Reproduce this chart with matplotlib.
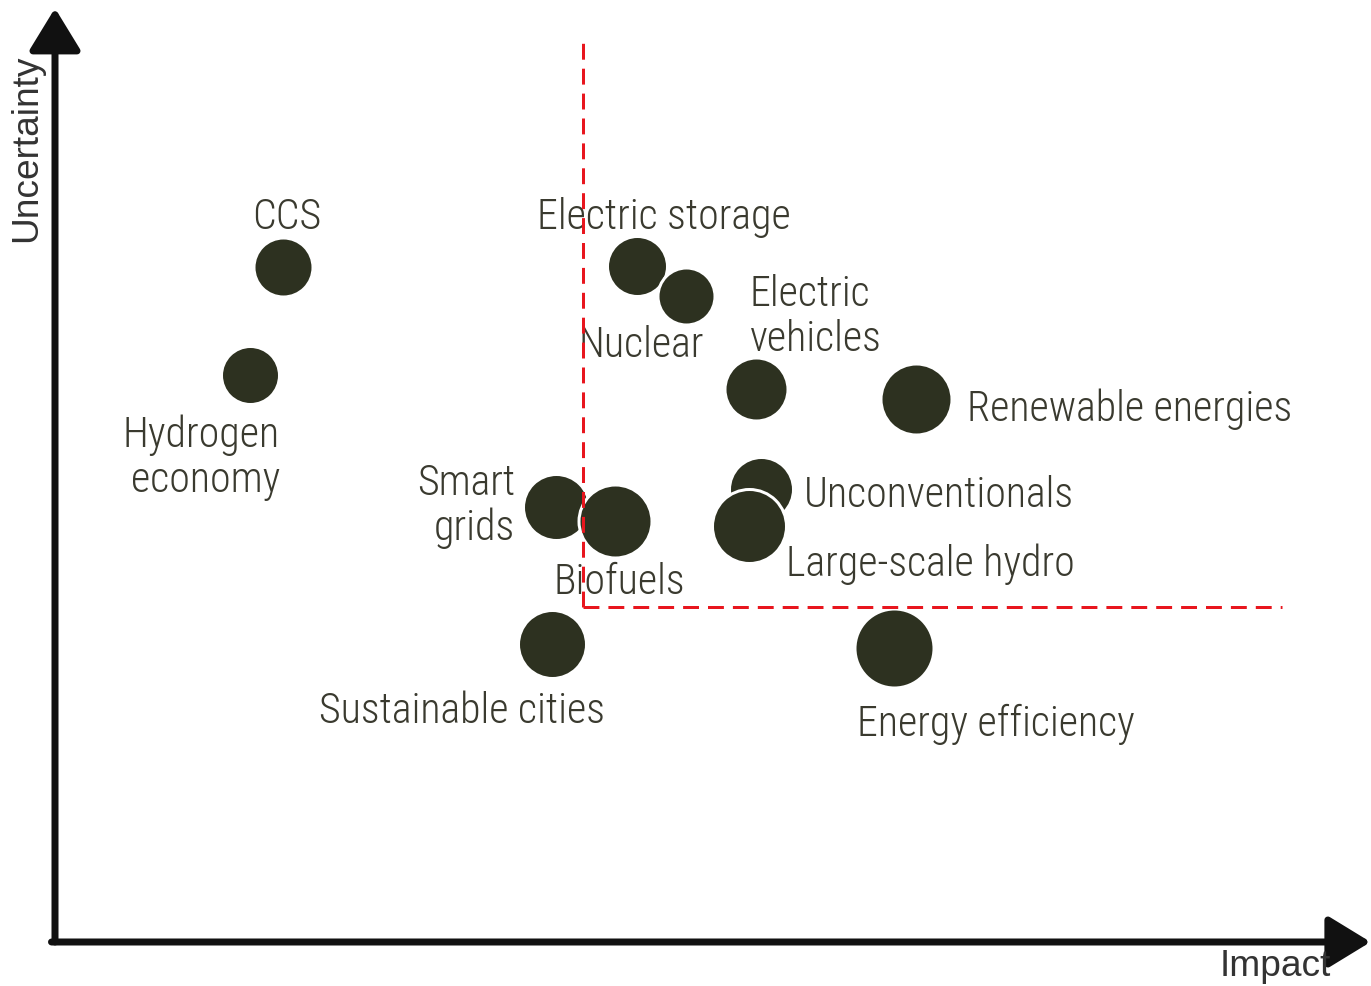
import matplotlib
matplotlib.use("Agg")
import matplotlib.pyplot as plt
from matplotlib.patches import ArrowStyle

# technologies on the impact / uncertainty map (0-10 scale)
names = ["CCS", "Hydrogen\neconomy", "Electric storage", "Nuclear",
         "Electric\nvehicles", "Renewable energies", "Smart\ngrids", "Biofuels",
         "Unconventionals", "Large-scale hydro", "Sustainable cities",
         "Energy efficiency"]
impact = [1.75, 1.50, 4.48, 4.85, 5.39, 6.62, 3.85, 4.31, 5.43, 5.34, 3.82, 6.45]
uncertainty = [7.34, 6.16, 7.35, 7.02, 6.01, 5.90, 4.73, 4.58, 4.92, 4.52, 3.24, 3.20]
weight = [28, 27.5, 28.5, 27, 30, 34, 31.5, 35, 30.5, 35.5, 32.5, 38]

impact_cut = 4.06
uncertainty_cut = 3.64
impact_cut_end = 9.44
uncertainty_cut_end = 9.84

# label placement: (dx, dy) in points of first baseline, alignment
label_layout = [
    (4, 38, "center"), (30, -72, "right"), (26, 37, "center"), (-44, -61, "center"),
    (-6, 83, "left"), (51, -22, "left"), (-40, 12, "right"), (4, -73, "center"),
    (43, -18, "left"), (37, -50, "left"), (-90, -79, "center"), (102, -88, "center"),
]

bubble_col = "#2d3120"
text_col = "#3a3a2f"
label_font = ["Roboto Condensed", "Archivo Narrow", "Sofia Sans Condensed",
              "Liberation Sans"]

fig = plt.figure(figsize=(1371 / 72, 986 / 72), dpi=72)
ax = fig.add_axes([55 / 1371, 44 / 986, 1300 / 1371, 920 / 986])
ax.set_xlim(0, 10)
ax.set_ylim(0, 10)
ax.axis("off")

# axes arrows
head = ArrowStyle("-|>", head_length=0.9, head_width=0.55)
ax.annotate("", xy=(0, 10.15), xytext=(0, 0), annotation_clip=False,
            arrowprops=dict(arrowstyle=head, lw=7, color="#111111",
                            mutation_scale=40, shrinkA=0, shrinkB=0))
ax.annotate("", xy=(10.12, 0), xytext=(-0.027, 0), annotation_clip=False,
            arrowprops=dict(arrowstyle=head, lw=7, color="#111111",
                            mutation_scale=40, shrinkA=0, shrinkB=0))
ax.text(-0.215, 8.63, "Uncertainty", rotation=90, ha="center", va="center",
        fontsize=37, color="#333333", family="Liberation Sans")
ax.text(9.385, -0.27, "Impact", ha="center", va="center",
        fontsize=37, color="#333333", family="Liberation Sans")

# bubbles
for x, y, r in zip(impact, uncertainty, weight):
    ax.scatter(x, y, s=(2 * r + 3) ** 2, color=bubble_col, edgecolor="white",
               linewidth=3, zorder=3, clip_on=False)

# labels
for x, y, name, (dx, dy, ha) in zip(impact, uncertainty, names, label_layout):
    for i, line in enumerate(name.split("\n")):
        ax.annotate(line, xy=(x, y), xytext=(dx, dy - 45 * i),
                    textcoords="offset points", ha=ha, va="baseline",
                    fontsize=42, color=text_col, family=label_font,
                    weight="light", zorder=4)

# quadrant threshold
ax.plot([impact_cut, impact_cut], [uncertainty_cut, uncertainty_cut_end],
        color="#e8161e", lw=3, dashes=(5.3, 3), zorder=5)
ax.plot([impact_cut, impact_cut_end], [uncertainty_cut, uncertainty_cut],
        color="#e8161e", lw=3, dashes=(5.3, 3), zorder=5)

fig.savefig("out.png", dpi=72, facecolor="white")
